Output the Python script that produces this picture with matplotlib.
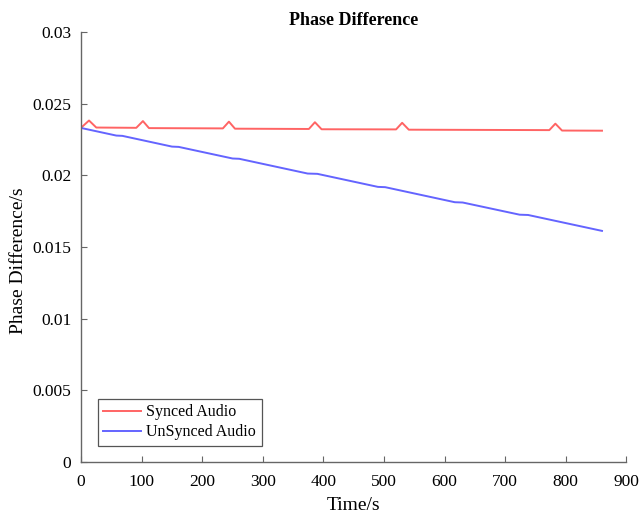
import matplotlib.pyplot as plt
from matplotlib.ticker import FuncFormatter

# synced audio: flat line with small bumps
synced_t = [0, 13, 25, 91, 102, 112, 234, 244, 254, 376, 386, 397, 520, 530, 541, 773, 783, 794, 860]
synced_v = [0.02332, 0.02382, 0.02333, 0.02331, 0.02378, 0.02329, 0.02327, 0.02374, 0.02325,
            0.02323, 0.02370, 0.02321, 0.02320, 0.02366, 0.02318, 0.02315, 0.02360, 0.02312, 0.02311]

# unsynced audio: drifting down
unsynced_t = [0, 58, 68, 150, 161, 250, 261, 374, 390, 490, 502, 617, 630, 724, 738, 860]
unsynced_v = [0.02330, 0.02277, 0.02275, 0.02200, 0.02198, 0.02117, 0.02115, 0.02012, 0.02010,
              0.01919, 0.01917, 0.01812, 0.01810, 0.01725, 0.01723, 0.01612]

plt.rcParams['font.family'] = ['Liberation Serif', 'DejaVu Serif']

fig = plt.figure(figsize=(6.39, 5.15), dpi=100)
ax = fig.add_axes([0.127, 0.103, 0.853, 0.835])

ax.plot(synced_t, synced_v, color='#ff6464', lw=1.4, label='Synced Audio')
ax.plot(unsynced_t, unsynced_v, color='#6464ff', lw=1.4, label='UnSynced Audio')

ax.set_xlim(0, 900)
ax.set_ylim(0, 0.03)
ax.set_xticks(range(0, 901, 100))
ax.set_yticks([0, 0.005, 0.01, 0.015, 0.02, 0.025, 0.03])
ax.yaxis.set_major_formatter(FuncFormatter(lambda v, p: '%g' % v))

for s in ['top', 'right']:
    ax.spines[s].set_visible(False)
for s in ['left', 'bottom']:
    ax.spines[s].set_color('#666666')
    ax.spines[s].set_linewidth(1.0)
ax.tick_params(direction='in', length=4, color='#666666', labelsize=12.5)
ax.tick_params(axis='x', pad=9)
ax.tick_params(axis='y', pad=7)

ax.set_title('Phase Difference', fontsize=13, fontweight='bold', pad=5)
ax.set_xlabel('Time/s', fontsize=14, labelpad=5)
ax.set_ylabel('Phase Difference/s', fontsize=14)
ax.yaxis.set_label_coords(-0.1, 0.467)

leg = ax.legend(loc='lower left', bbox_to_anchor=(0.03, 0.037), borderaxespad=0,
                fancybox=False, edgecolor='#555555', fontsize=11.5, handlelength=2.4,
                framealpha=1, borderpad=0.35, labelspacing=0.25, handletextpad=0.3)
leg.get_frame().set_linewidth(0.9)

fig.savefig('out.png', dpi=100)
